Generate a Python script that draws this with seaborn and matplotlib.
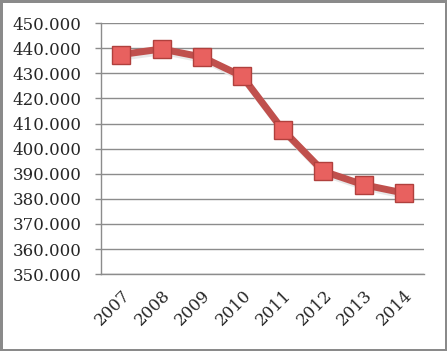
import matplotlib
matplotlib.use("Agg")
import matplotlib.pyplot as plt
from matplotlib.ticker import FuncFormatter, FixedLocator
import seaborn as sns
import pandas as pd

years = ["2007", "2008", "2009", "2010", "2011", "2012", "2013", "2014"]
values = [437.5, 439.7, 436.5, 428.8, 407.5, 391.0, 385.6, 382.3]

df = pd.DataFrame({"pos": range(len(years)), "year": years, "value": values})

sns.set_style("white")
plt.rcParams["font.family"] = ["DejaVu Serif"]

fig = plt.figure(figsize=(4.47, 3.51), dpi=100, linewidth=2.5, edgecolor="#8a8a8a")
ax = fig.add_axes([0.226, 0.219, 0.723, 0.715])

# soft drop shadow under the line
ax.plot(df["pos"] + 0.04, df["value"] - 1.0, color="#e8e8e8", lw=5, zorder=1)
sns.lineplot(data=df, x="pos", y="value", ax=ax, color="#c0504d", lw=5,
             marker="s", markersize=13, markerfacecolor="#e8615f",
             markeredgecolor="#b0403d", markeredgewidth=1.0, zorder=3)

ax.set_xlim(-0.5, len(years) - 0.5)
ax.set_ylim(350, 450)
ax.set_yticks(range(350, 451, 10))
ax.yaxis.set_major_formatter(FuncFormatter(lambda v, p: f"{int(v)}.000"))
ax.grid(axis="y", color="#8c8c8c", lw=1)
ax.set_axisbelow(True)

ax.set_xticks(range(len(years)))
ax.set_xticklabels(years, rotation=45, ha="right", rotation_mode="anchor")
ax.xaxis.set_minor_locator(FixedLocator([i - 0.5 for i in range(len(years) + 1)]))
ax.tick_params(axis="x", which="major", length=0, pad=9, labelsize=12)
ax.tick_params(axis="x", which="minor", length=5, color="#8c8c8c", width=1, direction="out")
ax.tick_params(axis="y", length=4, color="#8c8c8c", width=1, direction="out",
               pad=10, labelsize=12, left=True)
for s in ["top", "right"]:
    ax.spines[s].set_visible(False)
for s in ["left", "bottom"]:
    ax.spines[s].set_color("#8c8c8c")
    ax.spines[s].set_linewidth(1)
ax.set_xlabel("")
ax.set_ylabel("")

fig.savefig("out.png", dpi=100, edgecolor=fig.get_edgecolor())
